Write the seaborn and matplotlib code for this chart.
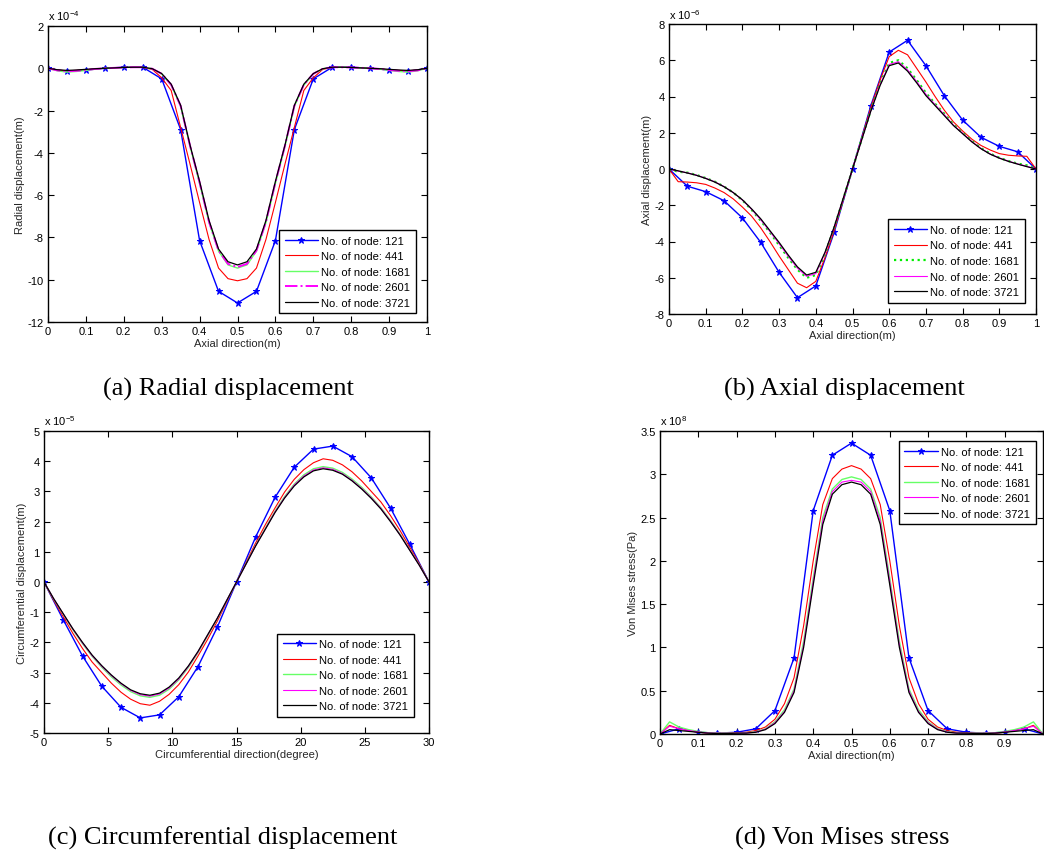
import numpy as np
import matplotlib
matplotlib.use("Agg")
import matplotlib.pyplot as plt
import seaborn as sns

# ---------------- data ----------------
labels = ["No. of node: 121", "No. of node: 441", "No. of node: 1681",
          "No. of node: 2601", "No. of node: 3721"]

x_ax21 = np.linspace(0, 1, 21)
x_ax41 = np.linspace(0, 1, 41)
x_c21 = np.linspace(0, 30, 21)
x_c41 = np.linspace(0, 30, 41)

# (a) radial displacement, x 1e-4 m
a_121 = [0, -0.15, -0.08, 0, 0.05, 0.05, -0.5, -2.9, -8.15, -10.55, -11.1,
         -10.55, -8.15, -2.9, -0.5, 0.05, 0.05, 0, -0.08, -0.15, 0]
a_441 = [0, -0.08, -0.12, -0.1, -0.07, -0.03, 0, 0.02, 0.04, 0.05, 0.04, -0.05,
         -0.45, -1.05, -2.8, -4.55, -6.35, -8.1, -9.45, -9.95, -10.05,
         -9.95, -9.45, -8.1, -6.35, -4.55, -2.8, -1.05, -0.45, -0.05, 0.04,
         0.05, 0.04, 0.02, 0, -0.03, -0.07, -0.1, -0.12, -0.08, 0]
a_1681 = [0, -0.12, -0.18, -0.15, -0.1, -0.04, 0, 0.02, 0.04, 0.05, 0.05, -0.02,
          -0.27, -0.8, -1.8, -3.7, -5.45, -7.3, -8.65, -9.3, -9.45,
          -9.3, -8.65, -7.3, -5.45, -3.7, -1.8, -0.8, -0.27, -0.02, 0.05,
          0.05, 0.04, 0.02, 0, -0.04, -0.1, -0.15, -0.18, -0.12, 0]
a_2601 = [0, -0.1, -0.14, -0.12, -0.08, -0.03, 0, 0.02, 0.04, 0.05, 0.05, -0.02,
          -0.26, -0.78, -1.78, -3.68, -5.4, -7.27, -8.62, -9.25, -9.4,
          -9.25, -8.62, -7.27, -5.4, -3.68, -1.78, -0.78, -0.26, -0.02, 0.05,
          0.05, 0.04, 0.02, 0, -0.03, -0.08, -0.12, -0.14, -0.1, 0]
a_3721 = [0, -0.07, -0.1, -0.08, -0.05, -0.02, 0, 0.02, 0.04, 0.05, 0.05, -0.02,
          -0.25, -0.75, -1.75, -3.65, -5.35, -7.2, -8.55, -9.15, -9.3,
          -9.15, -8.55, -7.2, -5.35, -3.65, -1.75, -0.75, -0.25, -0.02, 0.05,
          0.05, 0.04, 0.02, 0, -0.02, -0.05, -0.08, -0.1, -0.07, 0]

# (b) axial displacement, x 1e-6 m
b_121 = [0, -0.95, -1.25, -1.75, -2.7, -4.05, -5.7, -7.1, -6.45, -3.5, 0,
         3.5, 6.45, 7.1, 5.7, 4.05, 2.7, 1.75, 1.25, 0.95, 0]
b_441 = [0, -0.7, -0.72, -0.76, -0.85, -1.05, -1.3, -1.65, -2.1, -2.6, -3.25,
         -4.0, -4.8, -5.55, -6.3, -6.55, -6.2, -4.9, -3.4, -1.7, 0,
         1.7, 3.4, 4.9, 6.2, 6.55, 6.3, 5.55, 4.8, 4.0, 3.25, 2.6, 2.1, 1.65,
         1.3, 1.05, 0.85, 0.76, 0.72, 0.7, 0]
b_1681 = [0, -0.15, -0.2, -0.33, -0.5, -0.7, -0.97, -1.3, -1.72, -2.25, -2.85,
          -3.5, -4.2, -4.9, -5.55, -6.0, -5.85, -4.7, -3.25, -1.65, 0,
          1.65, 3.25, 4.7, 5.85, 6.0, 5.55, 4.9, 4.2, 3.6, 3.05, 2.45, 2.0,
          1.55, 1.15, 0.85, 0.62, 0.44, 0.3, 0.2, 0]
b_2601 = [0, -0.12, -0.21, -0.34, -0.51, -0.71, -0.97, -1.3, -1.71, -2.22, -2.8,
          -3.45, -4.12, -4.82, -5.47, -5.92, -5.77, -4.65, -3.22, -1.62, 0,
          1.62, 3.22, 4.65, 5.77, 5.92, 5.47, 4.82, 4.12, 3.55, 3.0, 2.42,
          1.97, 1.52, 1.13, 0.83, 0.61, 0.43, 0.28, 0.15, 0]
b_3721 = [0, -0.1, -0.22, -0.35, -0.52, -0.72, -0.98, -1.3, -1.7, -2.2, -2.75,
          -3.4, -4.05, -4.75, -5.4, -5.85, -5.7, -4.6, -3.2, -1.6, 0,
          1.6, 3.2, 4.6, 5.7, 5.85, 5.4, 4.75, 4.05, 3.5, 2.95, 2.4, 1.95,
          1.5, 1.12, 0.82, 0.6, 0.42, 0.27, 0.13, 0]

# (c) circumferential displacement, x 1e-5 m
c_121 = [0, -1.25, -2.45, -3.45, -4.15, -4.5, -4.4, -3.8, -2.8, -1.5, 0,
         1.5, 2.8, 3.8, 4.4, 4.5, 4.15, 3.45, 2.45, 1.25, 0]
c_441 = [0, -0.6, -1.15, -1.7, -2.2, -2.65, -3.0, -3.35, -3.65, -3.88, -4.03,
         -4.08, -3.95, -3.72, -3.4, -2.98, -2.45, -1.9, -1.3, -0.65, 0,
         0.65, 1.3, 1.9, 2.45, 2.98, 3.4, 3.72, 3.95, 4.08, 4.03, 3.88, 3.65,
         3.35, 3.0, 2.65, 2.2, 1.7, 1.15, 0.6, 0]
c_1681 = [0, -0.56, -1.07, -1.58, -2.04, -2.46, -2.82, -3.14, -3.41, -3.63, -3.77,
          -3.82, -3.75, -3.55, -3.24, -2.83, -2.34, -1.78, -1.22, -0.61, 0,
          0.61, 1.22, 1.78, 2.34, 2.83, 3.24, 3.55, 3.75, 3.82, 3.77, 3.63,
          3.41, 3.14, 2.82, 2.46, 2.04, 1.58, 1.07, 0.56, 0]
c_2601 = [0, -0.55, -1.06, -1.56, -2.02, -2.44, -2.79, -3.1, -3.37, -3.59, -3.73,
          -3.78, -3.71, -3.51, -3.21, -2.8, -2.32, -1.76, -1.21, -0.6, 0,
          0.6, 1.21, 1.76, 2.32, 2.8, 3.21, 3.51, 3.71, 3.78, 3.73, 3.59,
          3.37, 3.1, 2.79, 2.44, 2.02, 1.56, 1.06, 0.55, 0]
c_3721 = [0, -0.55, -1.05, -1.55, -2.0, -2.42, -2.77, -3.08, -3.35, -3.57, -3.7,
          -3.75, -3.68, -3.48, -3.18, -2.78, -2.3, -1.75, -1.2, -0.6, 0,
          0.6, 1.2, 1.75, 2.3, 2.78, 3.18, 3.48, 3.68, 3.75, 3.7, 3.57,
          3.35, 3.08, 2.77, 2.42, 2.0, 1.55, 1.05, 0.55, 0]

# (d) von Mises stress, x 1e8 Pa
d_121 = [0, 0.06, 0.02, 0.01, 0.02, 0.06, 0.27, 0.88, 2.58, 3.22, 3.36,
         3.22, 2.58, 0.88, 0.27, 0.06, 0.02, 0.01, 0.02, 0.06, 0]
d_441 = [0.0, 0.1, 0.06, 0.04, 0.02, 0.01, 0.01, 0.01, 0.015, 0.02, 0.04,
         0.08, 0.17, 0.35, 0.65, 1.25, 2.0, 2.65, 2.95, 3.06, 3.1,
         3.06, 2.95, 2.65, 2.0, 1.25, 0.65, 0.35, 0.17, 0.08, 0.04, 0.02,
         0.015, 0.01, 0.01, 0.01, 0.02, 0.04, 0.06, 0.1, 0.0]
d_1681 = [0.0, 0.14, 0.08, 0.05, 0.03, 0.015, 0.01, 0.01, 0.01, 0.015, 0.025,
          0.06, 0.14, 0.28, 0.52, 1.07, 1.8, 2.5, 2.83, 2.94, 2.97,
          2.94, 2.83, 2.5, 1.8, 1.07, 0.52, 0.28, 0.14, 0.06, 0.025, 0.015,
          0.01, 0.01, 0.01, 0.015, 0.03, 0.05, 0.08, 0.14, 0.0]
d_2601 = [0.0, 0.09, 0.06, 0.04, 0.025, 0.012, 0.008, 0.007, 0.01, 0.012, 0.022,
          0.055, 0.13, 0.26, 0.5, 1.03, 1.76, 2.46, 2.8, 2.91, 2.93,
          2.91, 2.8, 2.46, 1.76, 1.03, 0.5, 0.26, 0.13, 0.055, 0.022, 0.012,
          0.01, 0.007, 0.008, 0.012, 0.025, 0.04, 0.06, 0.09, 0.0]
d_3721 = [0.0, 0.05, 0.04, 0.03, 0.02, 0.01, 0.005, 0.005, 0.01, 0.01, 0.02,
          0.05, 0.12, 0.25, 0.48, 1.0, 1.72, 2.42, 2.77, 2.88, 2.91,
          2.88, 2.77, 2.42, 1.72, 1.0, 0.48, 0.25, 0.12, 0.05, 0.02, 0.01,
          0.01, 0.005, 0.005, 0.01, 0.02, 0.03, 0.04, 0.05, 0.0]

# ---------------- style ----------------
sns.set_style("ticks")
plt.rcParams["font.family"] = ["Liberation Sans", "DejaVu Sans"]
plt.rcParams["mathtext.fontset"] = "custom"
plt.rcParams["mathtext.rm"] = "Liberation Sans"
plt.rcParams["mathtext.it"] = "Liberation Sans"
plt.rcParams["xtick.direction"] = "in"
plt.rcParams["ytick.direction"] = "in"
plt.rcParams["axes.edgecolor"] = "black"
plt.rcParams["text.color"] = "black"
plt.rcParams["xtick.color"] = "black"
plt.rcParams["ytick.color"] = "black"

W, H = 1044, 853
fig = plt.figure(figsize=(W / 100, H / 100), dpi=100)


def add_ax(l, r, t, b):
    return fig.add_axes([l / W, 1 - b / H, (r - l) / W, (b - t) / H])


def styles(variant):
    st = [dict(color="#0000ff", lw=1.0, marker="*", markersize=5,
               markeredgecolor="#0000ff", markerfacecolor="#0000ff"),
          dict(color="#ff0000", lw=0.8),
          dict(color="#66ff66", lw=1.0),
          dict(color="#ff00ff", lw=0.8),
          dict(color="#000000", lw=0.9)]
    if variant == "a":
        st[3] = dict(color="#ff00ff", lw=1.4, linestyle="-.")
    if variant == "b":
        st[2] = dict(color="#00ee00", lw=1.6, linestyle=":")
    return st


def draw(ax, xs, ys, variant):
    st = styles(variant)
    for x, y, lab, s in zip(xs, ys, labels, st):
        sns.lineplot(x=x, y=y, ax=ax, label=lab, estimator=None, sort=False, **s)


def finish(ax, xlabel, ylabel, exp, loc, xticks, xticklabels, yticks, yticklabels,
           xlim, ylim, bbox=None):
    ax.set_xlim(*xlim)
    ax.set_ylim(*ylim)
    ax.set_xticks(xticks)
    ax.set_xticklabels(xticklabels)
    ax.set_yticks(yticks)
    ax.set_yticklabels(yticklabels)
    ax.tick_params(axis="both", which="both", direction="in", top=True, right=True,
                   length=4, width=0.8, labelsize=8, pad=3)
    for sp in ax.spines.values():
        sp.set_visible(True)
        sp.set_linewidth(1.0)
        sp.set_color("black")
    ax.set_xlabel(xlabel, fontsize=8, labelpad=1)
    ax.set_ylabel(ylabel, fontsize=8, labelpad=2)
    ax.text(0.0, 1.012, r"x 10$^{%d}$" % exp, transform=ax.transAxes,
            ha="left", va="bottom", fontsize=8)
    kw = dict(loc=loc, fontsize=8, handlelength=3.0, fancybox=False, framealpha=1,
              edgecolor="black", borderpad=0.5, labelspacing=0.5, handletextpad=0.3)
    if bbox is not None:
        kw["bbox_to_anchor"] = bbox
    leg = ax.legend(**kw)
    leg.get_frame().set_linewidth(1.0)


xt01 = [0, 0.1, 0.2, 0.3, 0.4, 0.5, 0.6, 0.7, 0.8, 0.9, 1.0]
xt01_lab = ["0", "0.1", "0.2", "0.3", "0.4", "0.5", "0.6", "0.7", "0.8", "0.9", "1"]

# (a)
ax_a = add_ax(48, 427, 27, 323)
draw(ax_a, [x_ax21, x_ax41, x_ax41, x_ax41, x_ax41],
     [a_121, a_441, a_1681, a_2601, a_3721], "a")
finish(ax_a, "Axial direction(m)", "Radial displacement(m)", -4, "lower right",
       xt01, xt01_lab, [-12, -10, -8, -6, -4, -2, 0, 2],
       ["-12", "-10", "-8", "-6", "-4", "-2", "0", "2"], (0, 1), (-12, 2),
       bbox=(0.985, 0.01))

# (b)
ax_b = add_ax(669, 1036, 25, 315)
draw(ax_b, [x_ax21, x_ax41, x_ax41, x_ax41, x_ax41],
     [b_121, b_441, b_1681, b_2601, b_3721], "b")
finish(ax_b, "Axial direction(m)", "Axial displacement(m)", -6, "lower right",
       xt01, xt01_lab, [-8, -6, -4, -2, 0, 2, 4, 6, 8],
       ["-8", "-6", "-4", "-2", "0", "2", "4", "6", "8"], (0, 1), (-8, 8),
       bbox=(0.985, 0.02))

# (c)
ax_c = add_ax(44, 429, 432, 734)
draw(ax_c, [x_c21, x_c41, x_c41, x_c41, x_c41],
     [c_121, c_441, c_1681, c_2601, c_3721], "c")
finish(ax_c, "Circumferential direction(degree)", "Circumferential displacement(m)", -5,
       "lower right", [0, 5, 10, 15, 20, 25, 30], ["0", "5", "10", "15", "20", "25", "30"],
       [-5, -4, -3, -2, -1, 0, 1, 2, 3, 4, 5],
       ["-5", "-4", "-3", "-2", "-1", "0", "1", "2", "3", "4", "5"], (0, 30), (-5, 5),
       bbox=(0.975, 0.035))

# (d)
ax_d = add_ax(660, 1043, 432, 735)
draw(ax_d, [x_ax21, x_ax41, x_ax41, x_ax41, x_ax41],
     [d_121, d_441, d_1681, d_2601, d_3721], "d")
finish(ax_d, "Axial direction(m)", "Von Mises stress(Pa)", 8, "upper right",
       xt01, xt01_lab[:-1] + [""], [0, 0.5, 1, 1.5, 2, 2.5, 3, 3.5],
       ["0", "0.5", "1", "1.5", "2", "2.5", "3", "3.5"], (0, 1), (0, 3.5),
       bbox=(0.995, 0.985))

# captions
cap_kw = dict(ha="center", va="center", fontsize=19,
              family=["Liberation Serif", "DejaVu Serif"])
fig.text(228 / W, 1 - 389 / H, "(a) Radial displacement", **cap_kw)
fig.text(844 / W, 1 - 389 / H, "(b) Axial displacement", **cap_kw)
fig.text(223 / W, 1 - 838 / H, "(c) Circumferential displacement", **cap_kw)
fig.text(842 / W, 1 - 838 / H, "(d) Von Mises stress", **cap_kw)

fig.savefig("out.png", dpi=100, facecolor="white")
